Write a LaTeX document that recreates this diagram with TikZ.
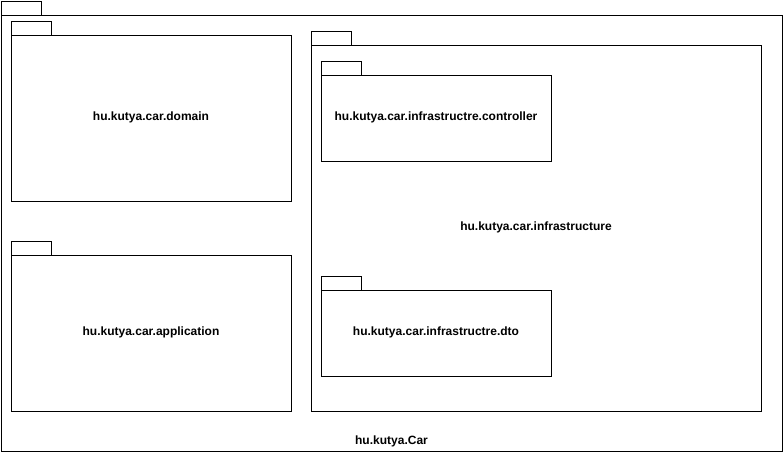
\documentclass[tikz,border=0pt]{standalone}
\usepackage{fontspec}
\setmainfont{Liberation Sans}
\usetikzlibrary{positioning}
\tikzset{
  pkg/.style={rectangle,draw=black,line width=1pt,inner sep=0pt,outer sep=0pt,anchor=north west},
  tabbox/.style={rectangle,draw=black,line width=1pt,minimum width=40pt,minimum height=14pt,inner sep=0pt,outer sep=0pt,anchor=south west},
  nm/.style={font=\fontsize{12}{14}\selectfont\bfseries},
}

\begin{document}
\begin{tikzpicture}[x=1pt,y=-1pt]
\useasboundingbox (0,0) rectangle (783,453);
% ---------- outer package ----------
\node[pkg,minimum width=781pt,minimum height=436pt] (car) at (1,15) {};
\node[tabbox] (cartab) at (car.north west) {};
\node[nm,above=0pt of car.south] (carlb) {hu.kutya.Car};
% ---------- left column: domain, application ----------
\node[pkg,minimum width=280pt,minimum height=166pt] (dom) at (11,35) {};
\node[tabbox] (domtab) at (dom.north west) {};
\node[nm] (domlb) at ([yshift=0.5pt]dom.center) {hu.kutya.car.domain};
\node[pkg,minimum width=280pt,minimum height=156pt] (app) at (11,255) {};
\node[tabbox] (apptab) at (app.north west) {};
\node[nm] (applb) at ([yshift=0.5pt]app.center) {hu.kutya.car.application};
% ---------- right: infrastructure with two subpackages ----------
\node[pkg,minimum width=450pt,minimum height=366pt] (infra) at (311,45) {};
\node[tabbox] (infratab) at (infra.north west) {};
\node[nm] (infralb) at ([yshift=1pt]infra.center) {hu.kutya.car.infrastructure};
\node[pkg,minimum width=230pt,minimum height=86pt] (ctrl) at (321,75) {};
\node[tabbox] (ctrltab) at (ctrl.north west) {};
\node[nm] (ctrllb) at ([yshift=0.5pt]ctrl.center) {hu.kutya.car.infrastructre.controller};
\node[pkg,minimum width=230pt,minimum height=86pt] (dto) at (321,290) {};
\node[tabbox] (dtotab) at (dto.north west) {};
\node[nm] (dtolb) at ([yshift=0.5pt]dto.center) {hu.kutya.car.infrastructre.dto};
\end{tikzpicture}
\end{document}
